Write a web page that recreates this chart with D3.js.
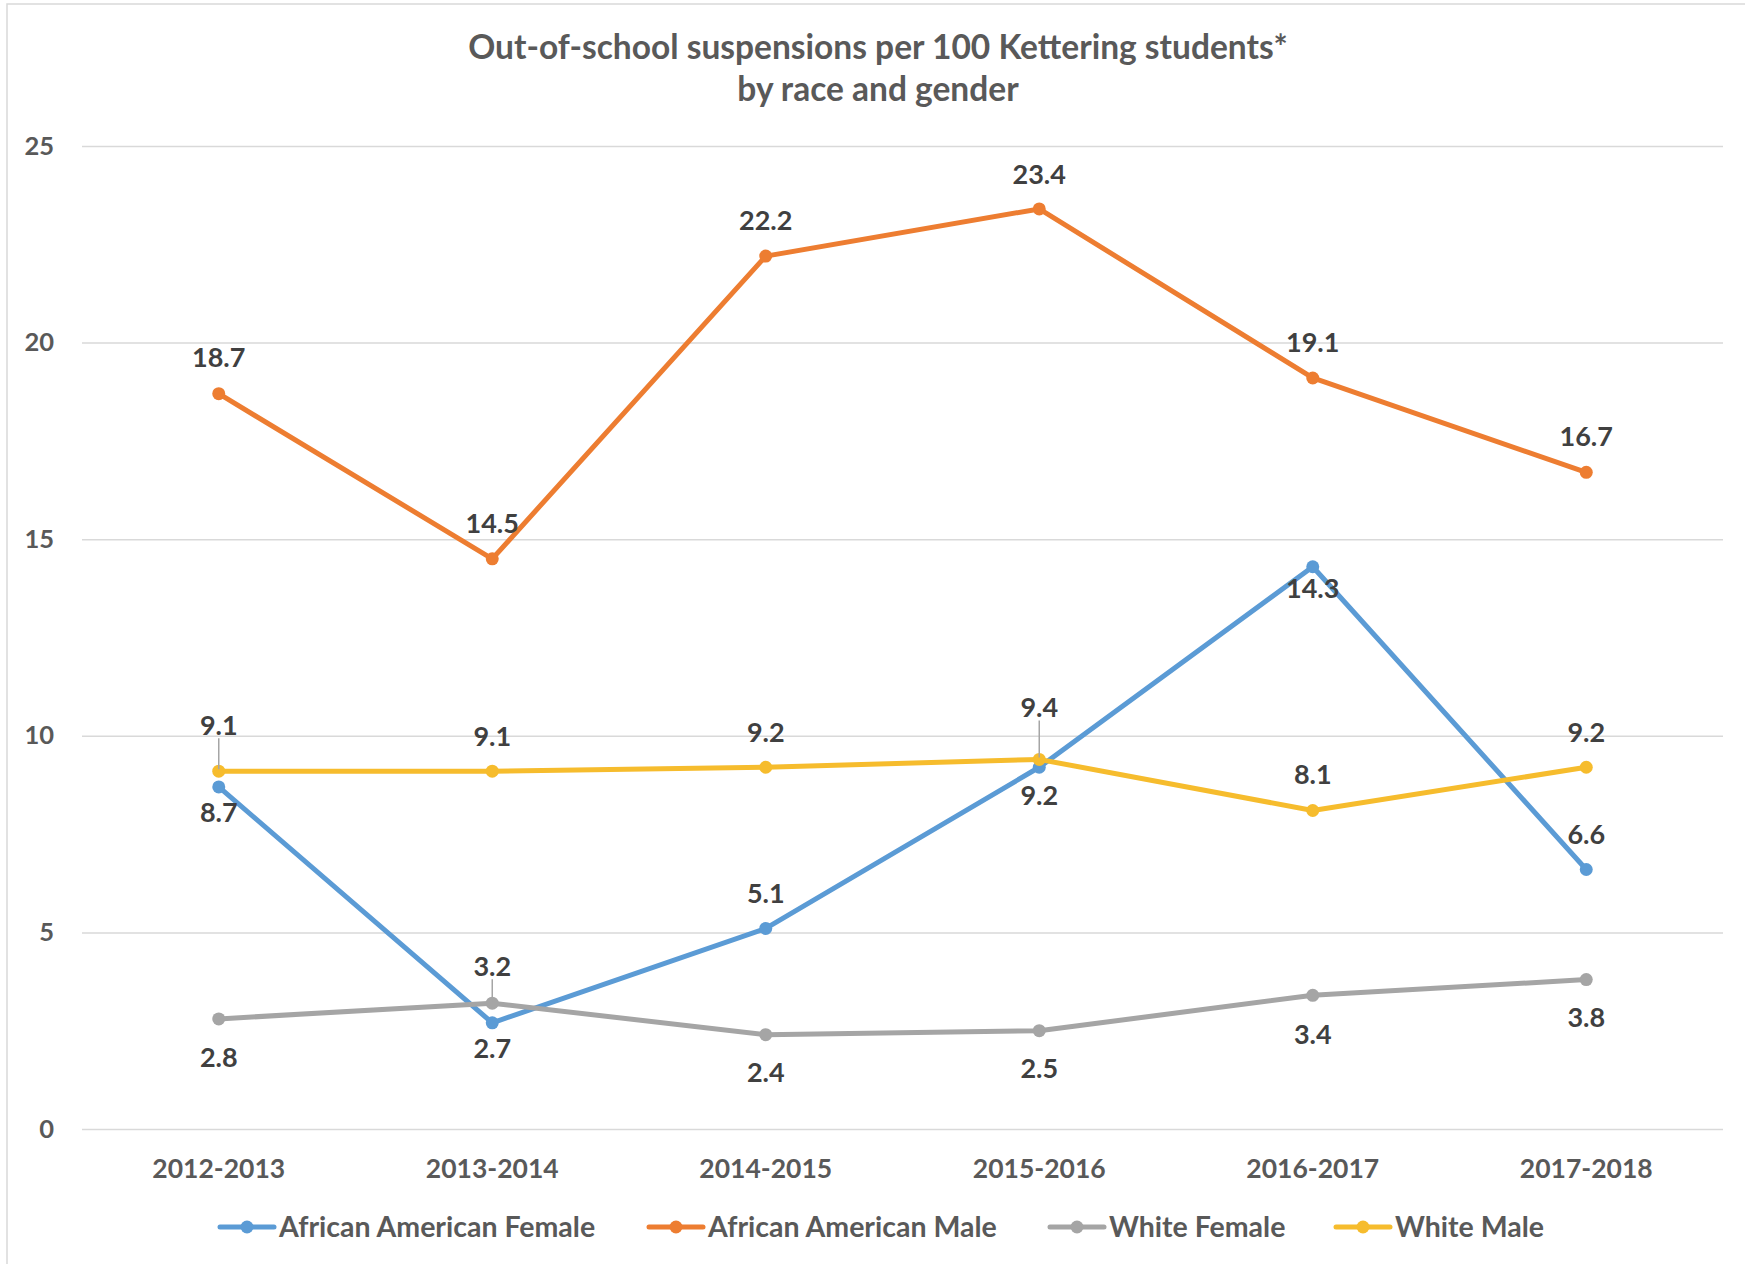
<!DOCTYPE html>
<html>
<head>
<meta charset="utf-8">
<script src="https://cdn.jsdelivr.net/npm/d3@7"></script>
<style>
  html, body { margin: 0; padding: 0; background: #fff; }
  svg { display: block; font-family: Lato, "Open Sans", "DejaVu Sans", sans-serif; }
</style>
</head>
<body>
<svg id="chart" width="1745" height="1264"></svg>
<script>
// ---- data ----
const categories = ["2012-2013", "2013-2014", "2014-2015", "2015-2016", "2016-2017", "2017-2018"];
const seriesNames = ["African American Female", "African American Male", "White Female", "White Male"];
const aaFemale = [8.7, 2.7, 5.1, 9.2, 14.3, 6.6];
const aaMale = [18.7, 14.5, 22.2, 23.4, 19.1, 16.7];
const whiteFemale = [2.8, 3.2, 2.4, 2.5, 3.4, 3.8];
const whiteMale = [9.1, 9.1, 9.2, 9.4, 8.1, 9.2];
const yTicks = [0, 5, 10, 15, 20, 25];

// ---- styling / label layout (not data) ----
const colors = ["#5B9BD5", "#ED7D31", "#A5A5A5", "#F6BC2D"];
// label vertical offset from point (px), and whether a leader line is drawn
const labelDy = [
  [26, 26, -35, 28, 22, -35],
  [-36, -35, -36, -34, -35, -36],
  [39, -37, 38, 38, 39, 38],
  [-46, -35, -35, -52, -36, -35]
];
const leader = [
  [0, 0, 0, 0, 0, 0],
  [0, 0, 0, 0, 0, 0],
  [0, 1, 0, 0, 0, 0],
  [1, 0, 0, 1, 0, 0]
];

const seriesValues = [aaFemale, aaMale, whiteFemale, whiteMale];

const svg = d3.select("#chart");
const W = 1745, H = 1264;
const plot = { left: 82, right: 1723, top: 146, bottom: 1129 };

// border
svg.append("rect").attr("x", 7).attr("y", 4).attr("width", W + 20).attr("height", H + 20)
  .attr("fill", "#fff").attr("stroke", "#D9D9D9").attr("stroke-width", 1.5);

const x = d3.scaleBand().domain(categories).range([plot.left, plot.right]).padding(0);
const y = d3.scaleLinear().domain([0, 25]).range([plot.bottom, plot.top]);
const cx = c => x(c) + x.bandwidth() / 2;

// title
const title = svg.append("text").attr("text-anchor", "middle").attr("fill", "#595959")
  .attr("font-size", 33.5).attr("font-weight", 700);
title.append("tspan").attr("x", 878).attr("y", 59).text("Out-of-school suspensions per 100 Kettering students*");
title.append("tspan").attr("x", 878).attr("y", 101).text("by race and gender");

// gridlines
const yAxis = d3.axisLeft(y).tickValues(yTicks).tickSize(-(plot.right - plot.left)).tickPadding(28);
const gy = svg.append("g").attr("transform", `translate(${plot.left},0)`).call(yAxis);
gy.select(".domain").remove();
gy.selectAll(".tick line").attr("stroke", "#D9D9D9").attr("stroke-width", 1.5);
gy.selectAll(".tick text").attr("fill", "#595959").attr("font-size", 25.5).attr("font-weight", 700)
  .attr("font-family", "Lato, 'Open Sans', sans-serif");

// x axis labels
const xAxis = d3.axisBottom(x).tickSize(0).tickPadding(0);
const gx = svg.append("g").attr("transform", `translate(0,${plot.bottom})`).call(xAxis);
gx.select(".domain").remove();
gx.selectAll(".tick text").attr("fill", "#595959").attr("font-size", 26.5).attr("font-weight", 700)
  .attr("font-family", "Lato, 'Open Sans', sans-serif").attr("dy", "0").attr("y", 49);

// lines
const line = d3.line().x((d, i) => cx(categories[i])).y(d => y(d));
seriesValues.forEach((vals, s) => {
  const g = svg.append("g");
  g.append("path").datum(vals).attr("d", line).attr("fill", "none")
    .attr("stroke", colors[s]).attr("stroke-width", 5).attr("stroke-linejoin", "round");
  g.selectAll("circle").data(vals).join("circle")
    .attr("cx", (d, i) => cx(categories[i])).attr("cy", d => y(d)).attr("r", 6.5)
    .attr("fill", colors[s]);
});

// data labels
seriesValues.forEach((vals, s) => {
  vals.forEach((v, i) => {
    const px = cx(categories[i]), py = y(v);
    const dy = labelDy[s][i];
    if (leader[s][i]) {
      svg.append("line").attr("x1", px).attr("x2", px)
        .attr("y1", py + dy + 13).attr("y2", py - 2)
        .attr("stroke", "#A5A5A5").attr("stroke-width", 1.5);
    }
    svg.append("text").attr("x", px).attr("y", py + dy).attr("dy", "0.35em")
      .attr("text-anchor", "middle").attr("fill", "#404040")
      .attr("font-size", 27).attr("font-weight", 700).text(v.toFixed(1));
  });
});

// legend
const legendX = [220, 649, 1050, 1336];
const legendY = 1227;
seriesNames.forEach((name, s) => {
  const g = svg.append("g").attr("transform", `translate(${legendX[s]},${legendY})`);
  g.append("line").attr("x1", 0).attr("x2", 54).attr("stroke", colors[s])
    .attr("stroke-width", 5).attr("stroke-linecap", "round");
  g.append("circle").attr("cx", 27).attr("r", 6.5).attr("fill", colors[s]);
  g.append("text").attr("x", 59).attr("dy", "0.35em").attr("fill", "#595959")
    .attr("font-size", 28.5).attr("font-weight", 700).text(name);
});
</script>
</body>
</html>
